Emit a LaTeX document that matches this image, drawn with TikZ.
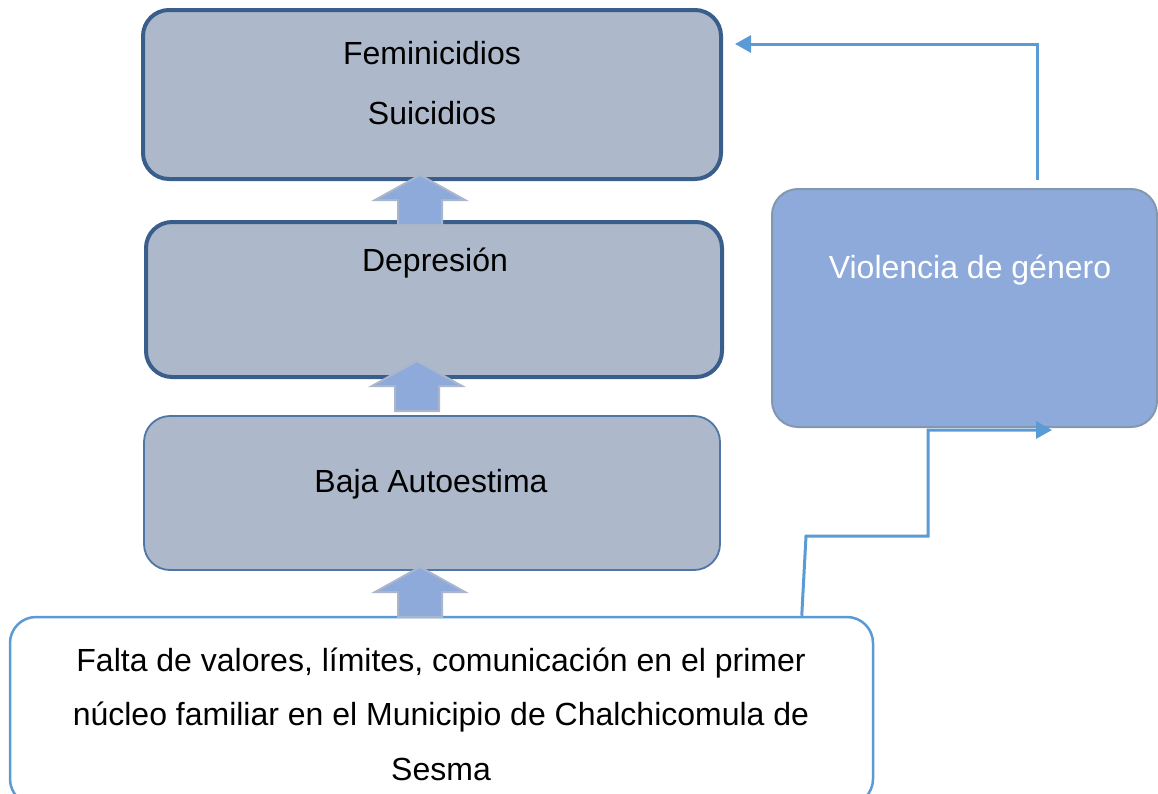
\documentclass[tikz,border=0pt]{standalone}
\usepackage{fontspec}
\setmainfont{Liberation Sans}
\usetikzlibrary{arrows.meta,calc}
\definecolor{boxfill}{HTML}{ADB9CA}
\definecolor{darkedge}{HTML}{3A5E8C}
\definecolor{midedge}{HTML}{4F74A8}
\definecolor{linkblue}{HTML}{5B9BD5}
\definecolor{violfill}{HTML}{8EAADB}
\definecolor{violedge}{HTML}{8497B0}
\definecolor{barrowedge}{HTML}{A9B6CC}
\tikzset{
  base/.style={rectangle, rounded corners=26pt, inner sep=0pt},
  gbox/.style={base, fill=boxfill, draw=darkedge, line width=4pt},
  gboxthin/.style={base, fill=boxfill, draw=midedge, line width=1.8pt},
  wbox/.style={base, fill=white, draw=linkblue, line width=2.5pt},
  vbox/.style={base, fill=violfill, draw=violedge, line width=2pt},
  txt/.style={font=\fontsize{32}{53}\selectfont, inner sep=0pt, align=center},
  blockarrow/.style={fill=violfill, draw=barrowedge, line width=2pt, line join=miter},
  link/.style={draw=linkblue, line width=3pt, -{Triangle[length=16pt,width=17pt]}}
}
\begin{document}
\begin{tikzpicture}[x=1pt,y=-1pt]
\useasboundingbox (0,0) rectangle (1158,793);
% boxes
\node[gbox, minimum width=578pt, minimum height=169pt] (top) at (432,94.5) {};
\node[gbox, minimum width=576pt, minimum height=155pt] (dep) at (434,299.5) {};
\node[gboxthin, minimum width=576pt, minimum height=154pt] (baja) at (432,493) {};
\node[wbox, minimum width=863pt, minimum height=188pt] (falta) at (441.5,711) {};
\node[vbox, minimum width=385pt, minimum height=238pt] (viol) at (964.5,308) {};
% texts
\node[txt] (t1) at (432,53) {Feminicidios};
\node[txt] (t2) at (432,113) {Suicidios};
\node[txt] (t3) at (435,263) {Depresión};
\node[txt] (t4) at (431,484) {Baja Autoestima};
\node[txt, text=white] (t5) at (970,270) {Violencia de género};
\node[txt] (t6) at (441,663) {Falta de valores, límites, comunicación en el primer};
\node[txt] (t7) at (441,717) {núcleo familiar en el Municipio de Chalchicomula de};
\node[txt] (t8) at (441,769) {Sesma};
% block arrows
\foreach \cx/\tip in {420/175, 417/361, 420/567}{
  \draw[blockarrow] (\cx,\tip) -- (\cx+45,\tip+25) -- (\cx+22,\tip+25) -- (\cx+22,\tip+50)
    -- (\cx-22,\tip+50) -- (\cx-22,\tip+25) -- (\cx-45,\tip+25) -- cycle;
}
% connectors
\coordinate (s1) at ($(falta.north west)+(793,0)$);
\coordinate (e1) at (1052,430);
\draw[link] (s1) -- (806,536) -- (928,536) -- (928,430) -- (e1);
\coordinate (s2) at (1037,180);
\coordinate (e2) at (735,44);
\draw[link] (s2) -- (1037,44) -- (e2);
\end{tikzpicture}
\end{document}
